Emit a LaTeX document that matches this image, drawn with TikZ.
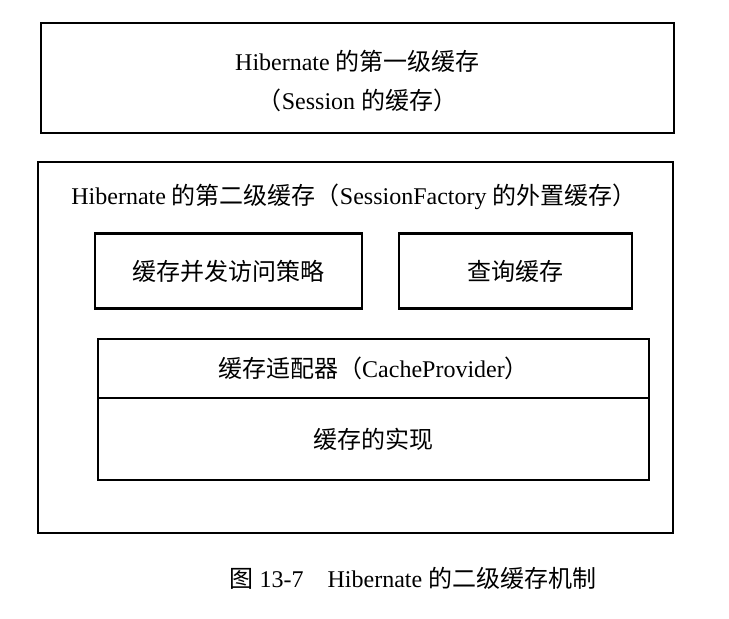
\documentclass[tikz,border=0pt]{standalone}
\usepackage{fontspec}
\setmainfont{Liberation Serif}
\newfontfamily\cjk{Noto Sans CJK SC}
\newcommand{\zh}[1]{{\cjk #1}}
\begin{document}
\begin{tikzpicture}[x=1pt,y=-1pt,
  box/.style={draw=black,line width=2.8pt,rectangle,inner sep=0pt,align=center,
    font=\fontsize{24}{39}\selectfont},
  lbl/.style={inner sep=0pt,align=center,font=\fontsize{24}{39}\selectfont}]
\useasboundingbox[fill=white] (0,0) rectangle (729,619);
\node[box,minimum width=633,minimum height=110] (top) at (357.5,78) {};
\node[lbl] (toptext) at (357.5,81.5)
  {Hibernate \zh{的第一级缓存}\\\zh{（}Session \zh{的缓存）}};
\node[box,minimum width=635,minimum height=371] (outer) at (355.5,347.5) {};
\node[lbl] (title) at (354,197) {Hibernate \zh{的第二级缓存（}SessionFactory \zh{的外置缓存）}};
\node[box,minimum width=267,minimum height=75] (strat) at (228.5,271) {\zh{缓存并发访问策略}};
\node[box,minimum width=233,minimum height=75] (query) at (515.5,271) {\zh{查询缓存}};
\node[box,minimum width=551,minimum height=59] (adapter) at (373.5,368.5) {\zh{缓存适配器（}CacheProvider\zh{）}};
\node[box,minimum width=551,minimum height=82] (impl) at (373.5,439) {\zh{缓存的实现}};
\node[lbl] (caption) at (413,578) {\zh{图} 13-7\hspace{1em}Hibernate \zh{的二级缓存机制}};
\end{tikzpicture}
\end{document}
